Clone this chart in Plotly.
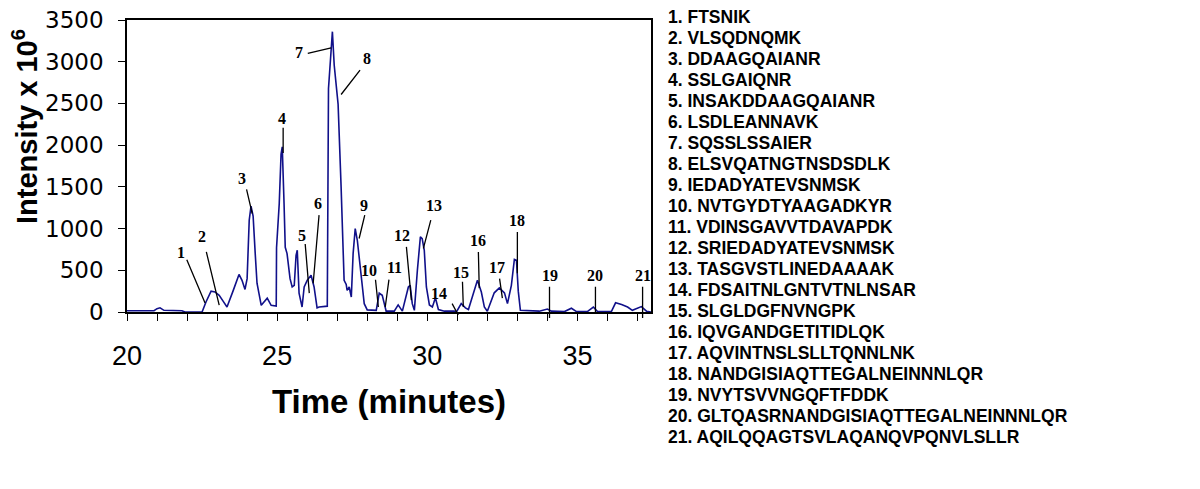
import plotly.graph_objects as go

# chromatogram trace (time in minutes, intensity x 10^6)
time_min = [
    20.0, 20.9, 21.0, 21.1, 21.23, 21.83, 21.93, 22.5, 22.63, 22.8,
    22.93, 23.07, 23.2, 23.33, 23.53, 23.73, 23.83, 23.93, 24.0, 24.07,
    24.13, 24.2, 24.27, 24.33, 24.47, 24.67, 24.8, 24.97, 24.98, 25.07,
    25.13, 25.17, 25.23, 25.27, 25.33, 25.43, 25.5, 25.57, 25.63, 25.67,
    25.73, 25.83, 25.9, 26.0, 26.13, 26.23, 26.33, 26.4, 26.67, 26.71,
    26.8, 26.84, 26.9, 27.0, 27.03, 27.13, 27.23, 27.3, 27.33, 27.4,
    27.47, 27.53, 27.6, 27.67, 27.8, 27.9, 28.0, 28.3, 28.4, 28.5,
    28.63, 28.9, 29.03, 29.17, 29.37, 29.43, 29.5, 29.57, 29.67, 29.77,
    29.83, 29.9, 29.97, 30.07, 30.17, 30.27, 30.37, 30.57, 30.9, 30.97,
    31.13, 31.27, 31.37, 31.5, 31.67, 31.8, 31.9, 32.0, 32.23, 32.4,
    32.57, 32.67, 32.8, 32.9, 32.97, 33.03, 33.1, 33.73, 33.87, 34.0,
    34.13, 34.57, 34.8, 34.97, 35.33, 35.53, 35.67, 36.13, 36.27, 36.47,
    36.67, 36.83, 37.13, 37.3, 37.45,
]
intensity = [
    15, 15, 40, 50, 20, 15, 0, 0, 120, 250,
    240, 200, 130, 60, 250, 450, 380, 270, 400, 1100,
    1270, 1150, 700, 345, 80, 165, 80, 70, 770, 1300,
    1890, 1980, 1300, 775, 700, 400, 300, 320, 680, 740,
    225, 60, 300, 380, 440, 300, 50, 60, 70, 2680,
    3150, 3360, 2960, 2580, 2490, 1500, 380, 330, 260, 300,
    180, 700, 1000, 860, 380, 100, 25, 20, 225, 200,
    10, 10, 85, 10, 300, 320, 100, 20, 500, 900,
    880, 740, 300, 85, 60, 170, 30, 10, 10, 0,
    100, 50, 30, 180, 380, 240, 60, 10, 230, 290,
    230, 100, 320, 630, 620, 250, 20, 10, 20, 35,
    10, 5, 45, 5, 5, 60, 5, 5, 110, 90,
    60, 20, 65, 10, 0,
]

# peak numbers, label positions and pointer lines (data units)
peak_ids = list(range(1, 22))
label_t = [21.8, 22.5, 23.83, 25.17, 25.83, 26.37, 25.73, 28.0, 27.9, 28.07, 28.9,
           29.17, 30.23, 30.4, 31.13, 31.7, 32.33, 33.0, 34.07, 35.57, 37.2]
label_i = [714, 905, 1595, 2321, 917, 1298, 3107, 3036, 1274, 500, 536,
           917, 1274, 226, 476, 857, 536, 1095, 440, 440, 440]
line_t0 = [21.97, 22.63, 23.97, 25.2, 25.93, 26.4, 25.97, 27.8, 27.93, 28.27, 28.73,
           29.3, 30.13, 30.8, 31.17, 31.7, 32.4, 33.0, 34.07, 35.6, 37.17]
line_i0 = [643, 738, 1488, 2226, 833, 1179, 3095, 2917, 1179, 405, 405,
           798, 1119, 119, 381, 738, 417, 976, 321, 321, 321]
line_t1 = [22.6, 23.07, 24.17, 25.2, 26.07, 26.2, 26.8, 27.13, 27.73, 28.37, 28.6,
           29.47, 29.87, 31.03, 31.2, 31.73, 32.5, 33.0, 34.07, 35.6, 37.17]
line_i1 = [107, 83, 1179, 1905, 226, 345, 3167, 2607, 881, 60, 60,
           143, 762, -36, 60, 286, 167, 464, -71, 0, -71]

peptides = [
    "FTSNIK", "VLSQDNQMK", "DDAAGQAIANR", "SSLGAIQNR", "INSAKDDAAGQAIANR",
    "LSDLEANNAVK", "SQSSLSSAIER", "ELSVQATNGTNSDSDLK", "IEDADYATEVSNMSK",
    "NVTGYDTYAAGADKYR", "VDINSGAVVTDAVAPDK", "SRIEDADYATEVSNMSK",
    "TASGVSTLINEDAAAAK", "FDSAITNLGNTVTNLNSAR", "SLGLDGFNVNGPK",
    "IQVGANDGETITIDLQK", "AQVINTNSLSLLTQNNLNK", "NANDGISIAQTTEGALNEINNNLQR",
    "NVYTSVVNGQFTFDDK", "GLTQASRNANDGISIAQTTEGALNEINNNLQR",
    "AQILQQAGTSVLAQANQVPQNVLSLLR",
]

fig = go.Figure()
fig.add_trace(go.Scatter(
    x=time_min, y=intensity, mode="lines",
    line=dict(color="#10108a", width=1.6),
    hoverinfo="skip", showlegend=False,
))

annotations = []
for k in range(len(peak_ids)):
    annotations.append(dict(
        x=line_t1[k], y=line_i1[k], ax=line_t0[k], ay=line_i0[k],
        xref="x", yref="y", axref="x", ayref="y",
        text="", showarrow=True, arrowhead=0, arrowwidth=1.3, arrowcolor="black",
    ))
    annotations.append(dict(
        x=label_t[k], y=label_i[k], xref="x", yref="y",
        text=str(peak_ids[k]), showarrow=False,
        font=dict(family="Liberation Serif", size=16, color="black", weight="bold"),
    ))

# screen-pixel layout of the plot area (page body adds an 8px offset)
page_off = 8
left, right, top, bottom = 127, 651, 20, 312
pw, ph = right - left, bottom - top

for k, name in enumerate(peptides):
    py = 17 + k * 21.0
    annotations.append(dict(
        x=(666 - left) / pw, y=(bottom - py) / ph,
        xref="paper", yref="paper", xanchor="left", yanchor="middle",
        text=f"{peak_ids[k]}. {name}", showarrow=False,
        font=dict(family="Liberation Sans", size=17.5, color="black", weight="bold"),
    ))

# y axis title sits higher than the plot centre in the original
annotations.append(dict(
    x=(25 - left) / pw, y=(bottom - 127) / ph, xref="paper", yref="paper",
    xanchor="center", yanchor="middle", textangle=-90,
    text="Intensity x 10<sup>6</sup>", showarrow=False,
    font=dict(family="Liberation Sans", size=29, color="black", weight="bold"),
))

fig.update_layout(
    width=1200, height=489,
    margin=dict(l=left - page_off, r=1200 - right + page_off,
                t=top - page_off, b=489 - bottom + page_off),
    plot_bgcolor="white", paper_bgcolor="white",
    annotations=annotations,
    xaxis=dict(
        range=[20, 37.45], tickvals=[20, 25, 30, 35],
        ticks="outside", ticklen=7, tickcolor="black", tickwidth=1.3,
        minor=dict(dtick=1, ticks="outside", ticklen=7, tickcolor="black", tickwidth=1.3),
        ticklabelstandoff=12, automargin=False, ticklabeloverflow="allow",
        showline=True, linecolor="black", linewidth=1.5, mirror=True,
        showgrid=False, zeroline=False,
        tickfont=dict(family="Liberation Sans", size=27, color="black"),
        title=dict(text="Time (minutes)", standoff=20,
                   font=dict(family="Liberation Sans", size=33, color="black", weight="bold")),
    ),
    yaxis=dict(
        range=[0, 3500], dtick=500,
        ticks="outside", ticklen=7, tickcolor="black", tickwidth=1.3,
        ticklabelstandoff=10, automargin=False, ticklabeloverflow="allow",
        showline=True, linecolor="black", linewidth=1.5, mirror=True,
        showgrid=False, zeroline=False,
        tickfont=dict(family="DejaVu Sans", size=23, color="black"),
    ),
)

fig.write_html("out.html")
